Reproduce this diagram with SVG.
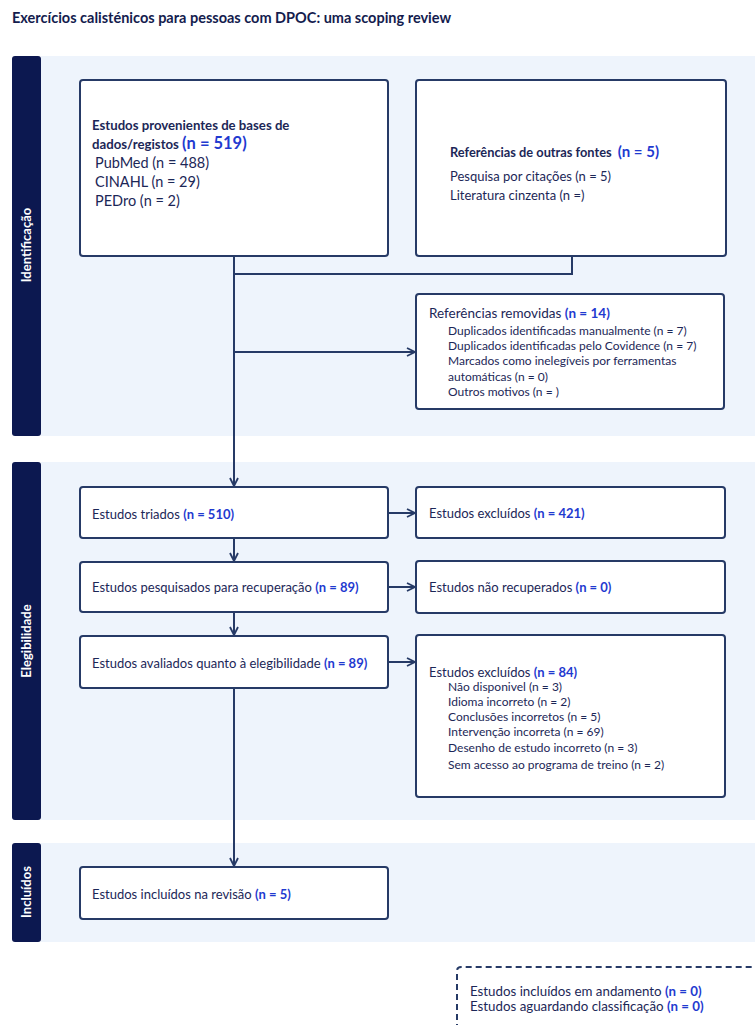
<svg xmlns="http://www.w3.org/2000/svg" width="755" height="1025" viewBox="0 0 755 1025">
<style>
text{font-family:Lato,"Open Sans","Liberation Sans",sans-serif;fill:#1c2757}
.t{font-size:14.5px;font-weight:bold;fill:#141c4e}
.bar{fill:#0c1850}
.panel{fill:#eef4fc}
.lab{font-size:13px;font-weight:bold;fill:#ffffff}
.box{fill:#ffffff;stroke:#263a66;stroke-width:2}
.n{fill:#1f3ad0;font-weight:bold}
.s{font-size:12px}
.m{font-size:13px}
.c{stroke:#263a66;stroke-width:2;fill:none}
</style>
<defs>
<marker id="a" viewBox="0 0 10 10" refX="9" refY="5" markerWidth="10" markerHeight="10" markerUnits="userSpaceOnUse" orient="auto">
<path d="M1,1 L9,5 L1,9" fill="none" stroke="#263a66" stroke-width="1.8"/>
</marker>
</defs>
<rect width="755" height="1025" fill="#ffffff"/>
<text class="t" x="12" y="23">Exercícios calisténicos para pessoas com DPOC: uma scoping review</text>

<g id="phases">
<rect class="panel" x="41" y="56" width="714" height="380"/>
<rect class="bar" x="12" y="56" width="29" height="380" rx="3"/>
<text class="lab" transform="translate(31,245) rotate(-90)" text-anchor="middle">Identificação</text>
<rect class="panel" x="41" y="462" width="714" height="358"/>
<rect class="bar" x="12" y="462" width="29" height="358" rx="3"/>
<text class="lab" transform="translate(31,641) rotate(-90)" text-anchor="middle">Elegibilidade</text>
<rect class="panel" x="41" y="843" width="714" height="99"/>
<rect class="bar" x="12" y="843" width="29" height="99" rx="3"/>
<text class="lab" transform="translate(31,892) rotate(-90)" text-anchor="middle">Incluídos</text>
</g>

<g id="connectors">
<path class="c" d="M234,256 V486" marker-end="url(#a)"/>
<path class="c" d="M234,274 H572 V256"/>
<path class="c" d="M234,352 H415" marker-end="url(#a)"/>
<path class="c" d="M234,538 V561" marker-end="url(#a)"/>
<path class="c" d="M234,612 V635" marker-end="url(#a)"/>
<path class="c" d="M234,688 V866" marker-end="url(#a)"/>
<path class="c" d="M388,513 H415" marker-end="url(#a)"/>
<path class="c" d="M388,587 H415" marker-end="url(#a)"/>
<path class="c" d="M388,662 H415" marker-end="url(#a)"/>
</g>

<g id="databases">
<rect class="box" x="80" y="80" width="308" height="176" rx="3"/>
<text font-size="13.2" font-weight="bold" x="92" y="130">Estudos provenientes de bases de</text>
<text font-size="13.2" font-weight="bold" x="92" y="149">dados/registos <tspan class="n" font-size="16.5">(n = 519)</tspan></text>
<text font-size="14.5" x="95" y="168">PubMed (n = 488)</text>
<text font-size="14.5" x="95" y="187">CINAHL (n = 29)</text>
<text font-size="14.5" x="95" y="206">PEDro (n = 2)</text>
</g>

<g id="other-sources">
<rect class="box" x="416" y="80" width="310" height="176" rx="3"/>
<text font-size="12.8" font-weight="bold" x="450" y="156.5">Referências de outras fontes <tspan class="n" font-size="15" dx="3">(n = 5)</tspan></text>
<text font-size="13" x="450" y="180.5">Pesquisa por citações (n = 5)</text>
<text font-size="13" x="450" y="199.5">Literatura cinzenta (n =)</text>
</g>

<g id="removed">
<rect class="box" x="416" y="294" width="308" height="115" rx="3"/>
<text font-size="13.5" x="429" y="318">Referências removidas <tspan class="n">(n = 14)</tspan></text>
<text class="s" x="448" y="335">Duplicados identificadas manualmente (n = 7)</text>
<text class="s" x="448" y="350">Duplicados identificadas pelo Covidence (n = 7)</text>
<text class="s" x="448" y="365">Marcados como inelegíveis por ferramentas</text>
<text class="s" x="448" y="381">automáticas (n = 0)</text>
<text class="s" x="448" y="396">Outros motivos (n = )</text>
</g>

<g id="screened">
<rect class="box" x="80" y="487" width="308" height="51" rx="3"/>
<text class="m" x="92" y="518.5">Estudos triados <tspan class="n">(n = 510)</tspan></text>
</g>
<g id="excluded1">
<rect class="box" x="416" y="487" width="309" height="51" rx="3"/>
<text class="m" x="429" y="517.5">Estudos excluídos <tspan class="n">(n = 421)</tspan></text>
</g>
<g id="sought">
<rect class="box" x="80" y="562" width="308" height="50" rx="3"/>
<text class="m" x="92" y="591.5">Estudos pesquisados para recuperação <tspan class="n">(n = 89)</tspan></text>
</g>
<g id="not-retrieved">
<rect class="box" x="416" y="561" width="309" height="52" rx="3"/>
<text class="m" x="429" y="591.5">Estudos não recuperados <tspan class="n">(n = 0)</tspan></text>
</g>
<g id="assessed">
<rect class="box" x="80" y="636" width="308" height="52" rx="3"/>
<text class="m" x="92" y="667.5">Estudos avaliados quanto à elegibilidade <tspan class="n">(n = 89)</tspan></text>
</g>
<g id="excluded2">
<rect class="box" x="416" y="635" width="309" height="162" rx="3"/>
<text class="m" x="429" y="676.5">Estudos excluídos <tspan class="n">(n = 84)</tspan></text>
<text class="s" x="448" y="691">Não disponivel (n = 3)</text>
<text class="s" x="448" y="706">Idioma incorreto (n = 2)</text>
<text class="s" x="448" y="721">Conclusões incorretos (n = 5)</text>
<text class="s" x="448" y="736">Intervenção incorreta (n = 69)</text>
<text class="s" x="448" y="752">Desenho de estudo incorreto (n = 3)</text>
<text class="s" x="448" y="769">Sem acesso ao programa de treino (n = 2)</text>
</g>
<g id="included">
<rect class="box" x="80" y="867" width="308" height="52" rx="3"/>
<text class="m" x="92" y="898.5">Estudos incluídos na revisão <tspan class="n">(n = 5)</tspan></text>
</g>

<g id="ongoing">
<path d="M457,1030 V971 Q457,967 461,967 H760" fill="none" stroke="#263a66" stroke-width="2" stroke-dasharray="6,4"/>
<text font-size="13.3" x="470" y="996">Estudos incluídos em andamento <tspan class="n">(n = 0)</tspan></text>
<text font-size="13.3" x="470" y="1011">Estudos aguardando classificação <tspan class="n">(n = 0)</tspan></text>
</g>
</svg>
